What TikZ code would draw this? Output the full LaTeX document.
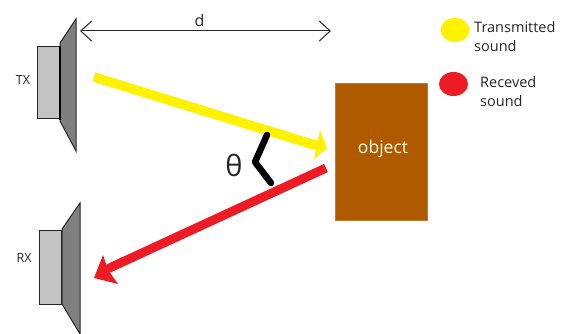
\documentclass[tikz,border=0pt]{standalone}
\usepackage{fontspec}
\setmainfont{Open Sans}
\usetikzlibrary{arrows.meta,shapes.geometric}
\definecolor{yel}{HTML}{FFF200}
\definecolor{redc}{HTML}{ED1C24}
\definecolor{brownc}{HTML}{B05A00}
\definecolor{bodyc}{HTML}{C3C3C3}
\definecolor{conec}{HTML}{7F7F7F}
\tikzset{
  magnet/.style={draw=black!85,line width=1pt,fill=bodyc},
  cone/.style={draw=black!85,line width=1pt,fill=conec},
  lab/.style={font=\fontsize{12.5}{15}\selectfont,text=black!85,inner sep=0pt},
  legtext/.style={font=\fontsize{14.5}{19}\selectfont,text=black!85,inner sep=0pt,align=left,anchor=west},
  legdot/.style={ellipse,minimum width=29pt,minimum height=24pt,inner sep=0pt},
}
\begin{document}
\begin{tikzpicture}[x=1pt,y=-1pt]
\useasboundingbox (0,0) rectangle (563,334);
% TX speaker
\draw[cone] (60,43) -- (76,19) -- (76,151) -- (60,121) -- cycle;
\node[magnet,minimum width=22pt,minimum height=72pt,inner sep=0pt] (txbody) at (48,83) {};
\draw[line width=2pt,black] (59.5,46) -- (59.5,120);
\node[lab] (tx) at (23,80) {TX};
% RX speaker
\draw[cone] (62,229) -- (80,203) -- (80,334) -- (62,304) -- cycle;
\node[magnet,minimum width=22pt,minimum height=73pt,inner sep=0pt] (rxbody) at (50.5,267.5) {};
\node[lab] (rx) at (24,258.5) {RX};
% object
\node[draw=brownc!80!white,fill=brownc,minimum width=92pt,minimum height=137pt,inner sep=0pt] (obj) at (381,151.5) {};
\node[text=white!88!yellow,font=\fontsize{17.5}{20}\selectfont,inner sep=0pt] (objlab) at (383,148.5) {object};
% distance
\coordinate (dl) at (80,31);
\coordinate (dr) at (331,31);
\draw[{Straight Barb[length=11pt,width=20pt,line width=1pt]}-{Straight Barb[length=11pt,width=20pt,line width=1pt]},line width=1pt,black!85] (dl) -- (dr);
\node[font=\fontsize{16}{18}\selectfont,text=black!85,inner sep=0pt] (d) at (199.5,20.5) {d};
% beams
\coordinate (ys) at (94,77);
\coordinate (ye) at (318,146);
\coordinate (yt) at (327,148.5);
\draw[yel,line width=9.5pt] (ys) -- (ye);
\fill[yel] (320,130) -- (yt) -- (314,159) -- cycle;
\coordinate (rs) at (326,168);
\coordinate (re) at (103,271);
\coordinate (rt) at (94,278);
\draw[redc,line width=9pt] (rs) -- (re);
\fill[redc] (103,255) -- (rt) -- (118,284) -- (108,270) -- cycle;
% angle
\coordinate (a1) at (267,135);
\coordinate (a2) at (255,162);
\coordinate (a3) at (271,183);
\draw[line width=6.5pt,line cap=round,line join=round,black] (a1) -- (a2) -- (a3);
\node[font=\fontsize{29}{32}\selectfont,text=black!85,inner sep=0pt] (theta) at (234,165) {θ};
% legend
\node[legdot,fill=yel] (ly) at (455,30) {};
\node[legdot,fill=redc] (lr) at (453.5,84) {};
\node[legtext] (ltxt) at (474,36.5) {Transmitted\\sound};
\node[legtext] (rtxt) at (480,91.5) {Receved\\sound};
\end{tikzpicture}
\end{document}
